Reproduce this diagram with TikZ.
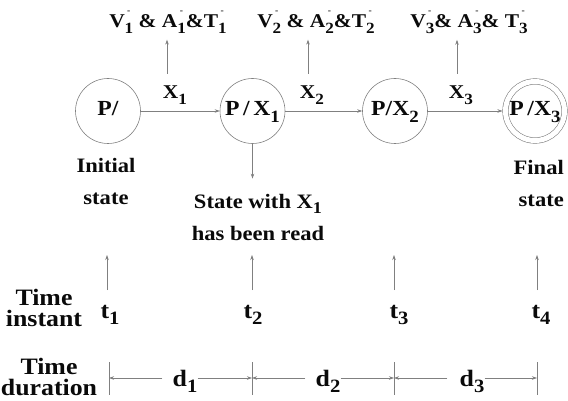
\documentclass[tikz,border=0pt]{standalone}
\usepackage{fontspec}
\setmainfont{Liberation Serif}[FakeStretch=1.1]
\usepackage{graphicx}
\usetikzlibrary{arrows.meta}
\newcommand{\dn}[1]{\raisebox{-0.28em}{\scalebox{0.8}{#1}}}
\newcommand{\mk}[2]{#1\rlap{\hspace{0.12em}\raisebox{0.72em}{\scalebox{0.45}{-}}}\dn{#2}}
\definecolor{lncol}{HTML}{808080}
\definecolor{txcol}{HTML}{0A0A0A}
\tikzset{
  ln/.style={draw=lncol, line width=0.6pt},
  arr/.style={ln, -{Stealth[length=5pt,width=3.5pt]}},
  st/.style={circle, ln, minimum size=65pt, inner sep=0pt, text height=14pt, text depth=4pt,
    font=\fontsize{21.5}{24}\selectfont\bfseries, text=txcol},
  fin/.style={st, minimum size=59pt, double=white, double distance=5pt, outer sep=3pt},
  lbl/.style={inner sep=0pt, text=txcol, font=\fontsize{19.5}{22}\selectfont\bfseries},
  lbltwo/.style={inner sep=0pt, text=txcol, font=\fontsize{20.5}{32}\selectfont\bfseries},
  lblthree/.style={inner sep=0pt, text=txcol, font=\fontsize{23.5}{21.5}\selectfont\bfseries},
}
\begin{document}
\begin{tikzpicture}[x=1pt,y=-1pt]
\useasboundingbox (0,0) rectangle (568,401);
% states
\node[st] (s1) at (108,111) {P/};
\node[st] (s2) at (252.5,111) {P\,/\,X\dn{1}};
\node[st] (s3) at (395,111) {P/X\dn{2}};
\node[fin] (s4) at (535,111) {P\,/X\dn{3}};
\draw[arr] (s1) -- (s2);
\draw[arr] (s2) -- (s3);
\draw[arr] (s3) -- (s4);
% input labels
\node[lbl, anchor=base] (x1) at (175,99) {X\dn{1}};
\node[lbl, anchor=base] (x2) at (312,99) {X\dn{2}};
\node[lbl, anchor=base] (x3) at (461,99) {X\dn{3}};
% outputs
\node[lbl, anchor=base] (v1) at (168,28) {\mk{V}{1} \& \mk{A}{1}\&\mk{T}{1}};
\node[lbl, anchor=base] (v2) at (316,28) {\mk{V}{2} \& \mk{A}{2}\&\mk{T}{2}};
\node[lbl, anchor=base] (v3) at (469,28) {\mk{V}{3}\& \mk{A}{3}\& \mk{T}{3}};
\coordinate (u1) at (167,74);
\coordinate (u2) at (308,74);
\coordinate (u3) at (457,74);
\draw[arr, shorten >=6pt] (u1) -- (u1 |- v1.south);
\draw[arr, shorten >=6pt] (u2) -- (u2 |- v2.south);
\draw[arr, shorten >=6pt] (u3) -- (u3 |- v3.south);
% state labels
\node[lbltwo, align=center] (ini) at (106,181) {Initial\\state};
\node[lbltwo, align=center] (wx) at (258,217) {State with X\dn{1}\\has been read};
\node[lbltwo, align=right, anchor=east] (fn) at (564,183) {Final\\state};
\draw[arr, shorten >=15pt] (s2.south) -- (s2.south |- wx.north);
% time instants
\node[lblthree, align=center] (ti) at (44,308) {Time\\instant};
\node[lblthree, anchor=base] (t1) at (110,318) {t\dn{1}};
\node[lblthree, anchor=base] (t2) at (253,318) {t\dn{2}};
\node[lblthree, anchor=base] (t3) at (399,318) {t\dn{3}};
\node[lblthree, anchor=base] (t4) at (541,318) {t\dn{4}};
\coordinate (p1) at (107,290); \coordinate (q1) at (107,255);
\coordinate (p2) at (252,290); \coordinate (q2) at (252,255);
\coordinate (p3) at (394,290); \coordinate (q3) at (394,255);
\coordinate (p4) at (537,290); \coordinate (q4) at (537,255);
\draw[arr] (p1) -- (q1);
\draw[arr] (p2) -- (q2);
\draw[arr] (p3) -- (q3);
\draw[arr] (p4) -- (q4);
% durations
\node[lblthree, align=center] (td) at (49,377) {Time\\duration};
\coordinate (k1) at (109,378);
\coordinate (k2) at (252,378);
\coordinate (k3) at (394,378);
\coordinate (k4) at (537,378);
\foreach \k in {k1,k2,k3,k4} \draw[ln] (\k) ++(0,-16) -- ++(0,33);
\node[lblthree, anchor=base] (d1) at (185,386) {d\dn{1}};
\node[lblthree, anchor=base] (d2) at (328,386) {d\dn{2}};
\node[lblthree, anchor=base] (d3) at (472,386) {d\dn{3}};
\draw[arr, shorten <=10pt] (d1.west |- k1) -- (k1);
\draw[arr] (d1.east |- k2) -- (k2);
\draw[arr, shorten <=10pt] (d2.west |- k2) -- (k2);
\draw[arr] (d2.east |- k3) -- (k3);
\draw[arr, shorten <=12pt] (d3.west |- k3) -- (k3);
\draw[arr] (d3.east |- k4) -- (k4);
\end{tikzpicture}
\end{document}
